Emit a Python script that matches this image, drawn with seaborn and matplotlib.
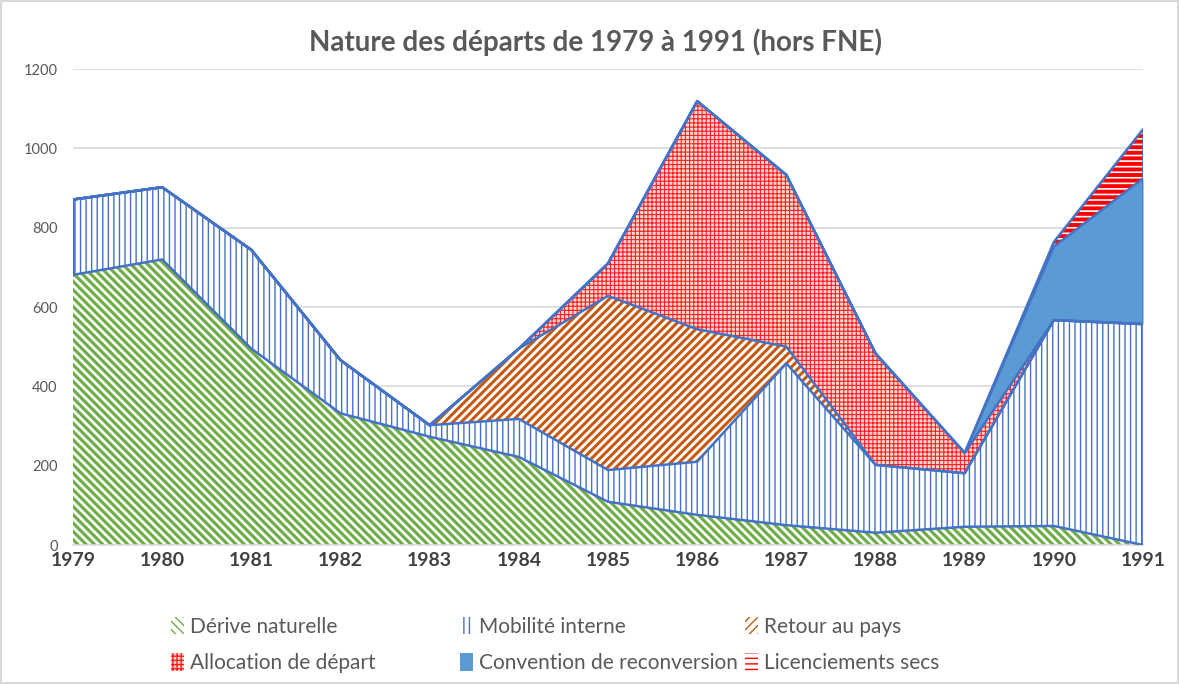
import numpy as np
import pandas as pd
import seaborn as sns
import matplotlib.pyplot as plt
from matplotlib.patches import Patch, Rectangle

# values
years = [1979, 1980, 1981, 1982, 1983, 1984, 1985, 1986, 1987, 1988, 1989, 1990, 1991]
derive = [681, 720, 495, 332, 273, 222, 109, 76, 50, 31, 46, 48, 0]
mobilite = [190, 182, 249, 134, 29, 96, 80, 134, 408, 171, 135, 519, 557]
retour = [0, 0, 0, 0, 0, 177, 439, 334, 42, 0, 0, 0, 0]
allocation = [0, 0, 0, 0, 0, 0, 82, 575, 433, 281, 51, 0, 0]
convention = [0, 0, 0, 0, 0, 0, 0, 0, 0, 0, 0, 185, 367]
licenciements = [0, 0, 0, 0, 0, 0, 0, 0, 0, 0, 0, 12, 124]
series = ["Dérive naturelle", "Mobilité interne", "Retour au pays",
          "Allocation de départ", "Convention de reconversion", "Licenciements secs"]

# face, hatch colour, hatch, hatch width
styles = {
    "Dérive naturelle": ("white", "#70AD47", "\\\\\\\\", 2.3),
    "Mobilité interne": ("white", "#4472C4", "|||", 1.0),
    "Retour au pays": ("white", "#C55A11", "////", 2.2),
    "Allocation de départ": ("#FFD6D6", "#FF1F1F", "++++", 0.8),
    "Convention de reconversion": ("#5B9BD5", "#5B9BD5", None, 1.0),
    "Licenciements secs": ("white", "#FF0000", "---", 2.8),
}

df = pd.DataFrame(dict(zip(series, [derive, mobilite, retour, allocation, convention, licenciements])),
                  index=years)
cum = df.cumsum(axis=1)

sns.set_style("white")
plt.rcParams['font.family'] = ['Lato', 'DejaVu Sans']

fig = plt.figure(figsize=(11.79, 6.84), dpi=100)
ax = fig.add_axes([0.0619, 0.2032, 0.9076, 0.6959])

base = np.zeros(len(years))
for name in series:
    face, hc, hatch, hlw = styles[name]
    top = cum[name].values
    with plt.rc_context({'hatch.linewidth': hlw}):
        ax.fill_between(years, base, top, facecolor=face, edgecolor=hc,
                        hatch=hatch, linewidth=0, zorder=2)
    base = top

# blue outlines on top of each layer
long = cum.reset_index(names="annee").melt(id_vars="annee", var_name="serie", value_name="cumul")
sns.lineplot(data=long, x="annee", y="cumul", units="serie", estimator=None,
             color="#4472C4", lw=1.8, ax=ax, zorder=3)
ax.plot([years[0], years[0]], [derive[0], cum.iloc[0, -1]], color="#4472C4", lw=1.8, zorder=3)
ax.plot([years[-1], years[-1]], [0, cum.iloc[-1, -1]], color="#4472C4", lw=1.8, zorder=3)

ax.set_xlim(years[0], years[-1])
ax.set_ylim(0, 1200)
ax.set_yticks(range(0, 1201, 200))
ax.set_xticks(years)
ax.set_xlabel("")
ax.set_ylabel("")
ax.grid(axis="y", color="#D9D9D9", lw=1.2)
ax.set_axisbelow(True)
for s in ["left", "right", "top"]:
    ax.spines[s].set_visible(False)
ax.spines["bottom"].set_color("#D9D9D9")
ax.spines["bottom"].set_linewidth(1.2)
ax.tick_params(axis="y", length=0, pad=11, labelsize=10.5, labelcolor="#595959")
ax.tick_params(axis="x", length=5, width=1.2, color="#D9D9D9", pad=0,
               labelsize=14, labelcolor="#404040")
for t in ax.get_xticklabels():
    t.set_fontweight("bold")

fig.text(0.505, 1 - 42 / 684, "Nature des départs de 1979 à 1991 (hors FNE)",
         ha="center", va="center", fontsize=20, fontweight="bold", color="#595959")

# legend, 3 columns of 2 rows
cols = [(series[0], series[3]), (series[1], series[4]), (series[2], series[5])]
col_x = [161 / 1179, 450 / 1179, 735 / 1179]
for xs, pair in zip(col_x, cols):
    handles = []
    for name in pair:
        face, hc, hatch, hlw = styles[name]
        handles.append(Patch(facecolor=face, edgecolor=hc, hatch=hatch, lw=0))
    fig.legend(handles, pair, loc="center left", bbox_to_anchor=(xs, 1 - 645 / 684),
               frameon=False, fontsize=15, labelcolor="#595959", handlelength=0.6,
               handleheight=0.9, handletextpad=0.3, labelspacing=0.78, borderpad=0)

fig.patches.append(Rectangle((0.001, 0.001), 0.998, 0.997, transform=fig.transFigure,
                             fill=False, edgecolor="#D9D9D9", lw=1.5))

fig.savefig("out.png", dpi=100)
